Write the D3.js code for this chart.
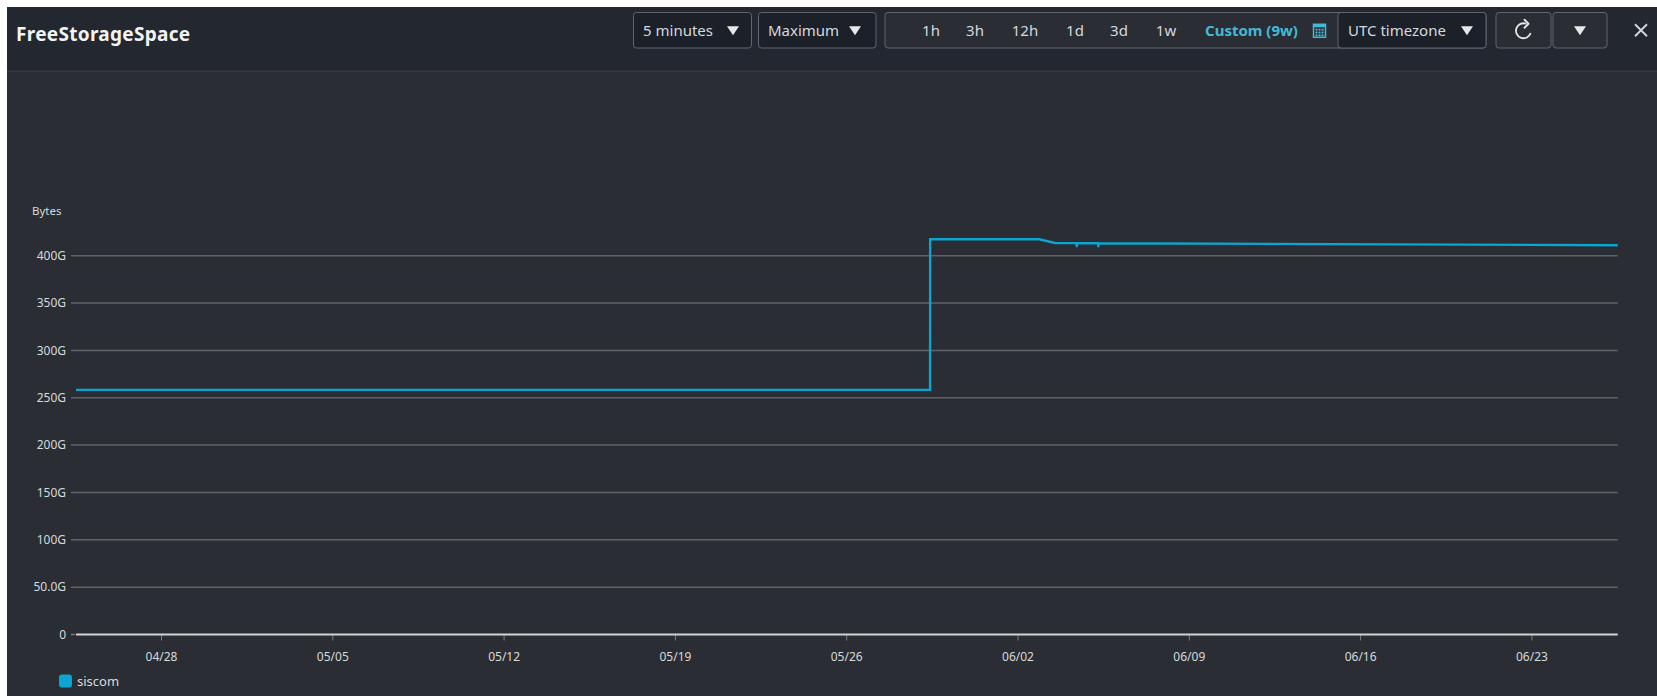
<!DOCTYPE html>
<html>
<head>
<meta charset="utf-8">
<script src="https://cdn.jsdelivr.net/npm/d3@7/dist/d3.min.js"></script>
<style>
  html, body { margin: 0; padding: 0; background: #ffffff; }
  svg { display: block; font-family: "Noto Sans", "Open Sans", sans-serif; }
</style>
</head>
<body>
<svg id="chart" width="1657" height="696"></svg>
<script>
// ---- data ----
const seriesName = "siscom";
const times = [
  "2024-04-24T12:38:00Z",
  "2024-05-29T10:15:00Z",
  "2024-05-29T10:20:00Z",
  "2024-06-02T21:20:00Z",
  "2024-06-03T12:45:00Z",
  "2024-06-04T09:50:00Z",
  "2024-06-04T10:05:00Z",
  "2024-06-04T10:20:00Z",
  "2024-06-05T07:00:00Z",
  "2024-06-05T07:15:00Z",
  "2024-06-05T07:30:00Z",
  "2024-06-26T12:38:00Z"
];
const valuesGB = [258.3, 258.3, 417.3, 417.3, 413.4, 413.3, 409.0, 413.3, 413.2, 409.0, 413.2, 411.0];
const yTicks = [0, 50, 100, 150, 200, 250, 300, 350, 400];
const yTickLabels = ["0", "50.0G", "100G", "150G", "200G", "250G", "300G", "350G", "400G"];
const xDomain = ["2024-04-24T12:38:00Z", "2024-06-26T12:38:00Z"];
const periodOptions = ["5 minutes", "Maximum"];
const rangeOptions = ["1h", "3h", "12h", "1d", "3d", "1w"];
const customLabel = "Custom (9w)";
const tzLabel = "UTC timezone";
const title = "FreeStorageSpace";
const yAxisLabel = "Bytes";

// ---- layout ----
const svg = d3.select("#chart");
const W = 1657, H = 696;
const left = 76, right = 1617.7, top0 = 255.7, bottom = 634.5;

// backgrounds
svg.append("rect").attr("x", 0).attr("y", 0).attr("width", W).attr("height", H).attr("fill", "#ffffff");
svg.append("rect").attr("x", 7).attr("y", 7).attr("width", W - 7).attr("height", H - 7).attr("fill", "#2a2d33");
svg.append("rect").attr("x", 7).attr("y", 7).attr("width", W - 7).attr("height", 64).attr("fill", "#232730");
svg.append("rect").attr("x", 7).attr("y", 70.5).attr("width", W - 7).attr("height", 1.5).attr("fill", "#343941");

// ---- header ----
svg.append("text").attr("x", 16).attr("y", 40.5).attr("fill", "#f2f3f3")
  .attr("font-size", 19).attr("font-weight", 700).attr("letter-spacing", 0.3).text(title);

function triangle(g, cx, cy) {
  g.append("path").attr("d", `M${cx-6},${cy-4} L${cx+6},${cy-4} L${cx},${cy+5} Z`).attr("fill", "#e6e8ea");
}
const btnY = 12.5, btnH = 35.5, midY = btnY + btnH / 2;
const btnText = "#d5d9de", btnBorder = "#5f6670";

// period / stat buttons
const btns = [
  {x: 633.5, w: 118, label: periodOptions[0], tx: 643, ax: 733},
  {x: 758.5, w: 117.5, label: periodOptions[1], tx: 768, ax: 855}
];
btns.forEach(b => {
  svg.append("rect").attr("x", b.x).attr("y", btnY).attr("width", b.w).attr("height", btnH)
    .attr("rx", 3).attr("fill", "#1b2029").attr("stroke", btnBorder).attr("stroke-width", 1);
  svg.append("text").attr("x", b.tx).attr("y", midY + 5.5).attr("fill", btnText).attr("font-size", 15).text(b.label);
  triangle(svg, b.ax, midY);
});

// range group
svg.append("rect").attr("x", 885).attr("y", btnY).attr("width", 601).attr("height", btnH)
  .attr("rx", 3).attr("fill", "#2a2d33").attr("stroke", btnBorder).attr("stroke-width", 1);
const rangeX = [931, 975, 1025, 1075, 1119, 1166];
rangeOptions.forEach((r, i) => {
  svg.append("text").attr("x", rangeX[i]).attr("y", midY + 5.5).attr("text-anchor", "middle")
    .attr("fill", btnText).attr("font-size", 15).text(r);
});
svg.append("text").attr("x", 1205).attr("y", midY + 5.5).attr("fill", "#44b9d6")
  .attr("font-size", 15).attr("font-weight", 700).text(customLabel);
// calendar icon
const cal = svg.append("g").attr("transform", `translate(1313,${midY - 6.5})`);
cal.append("rect").attr("x", 0.5).attr("y", 0.5).attr("width", 12).attr("height", 13).attr("fill", "none")
  .attr("stroke", "#44b9d6").attr("stroke-width", 1.5);
cal.append("rect").attr("x", 0.5).attr("y", 0.5).attr("width", 12).attr("height", 3).attr("fill", "#44b9d6");
for (let r = 0; r < 3; r++) for (let c = 0; c < 3; c++) {
  cal.append("rect").attr("x", 2.5 + c * 3).attr("y", 5 + r * 2.8).attr("width", 2).attr("height", 1.8).attr("fill", "#44b9d6");
}
// timezone
svg.append("rect").attr("x", 1338).attr("y", btnY).attr("width", 148).attr("height", btnH)
  .attr("rx", 3).attr("fill", "#1b2029").attr("stroke", btnBorder).attr("stroke-width", 1);
svg.append("text").attr("x", 1348).attr("y", midY + 5.5).attr("fill", btnText).attr("font-size", 15).text(tzLabel);
triangle(svg, 1467, midY);
// refresh
svg.append("rect").attr("x", 1496).attr("y", btnY).attr("width", 55).attr("height", btnH)
  .attr("rx", 3).attr("fill", "#2a2d33").attr("stroke", btnBorder).attr("stroke-width", 1);
const rc = {x: 1523.5, y: midY + 0.5}, rr = 7.5;
const rp = d3.path();
rp.arc(0, 0, rr, Math.PI * 0.1, Math.PI * 1.62, false);
svg.append("path").attr("transform", `translate(${rc.x},${rc.y})`).attr("d", rp.toString())
  .attr("fill", "none").attr("stroke", "#e6e8ea").attr("stroke-width", 1.8);
svg.append("path").attr("d", `M${rc.x + 1},${rc.y - 11} L${rc.x + 5},${rc.y - 7} L${rc.x + 1},${rc.y - 3}`)
  .attr("fill", "none").attr("stroke", "#e6e8ea").attr("stroke-width", 1.8).attr("stroke-linejoin", "round").attr("stroke-linecap", "round");
// dropdown
svg.append("rect").attr("x", 1553).attr("y", btnY).attr("width", 54).attr("height", btnH)
  .attr("rx", 3).attr("fill", "#2a2d33").attr("stroke", btnBorder).attr("stroke-width", 1);
triangle(svg, 1580, midY);
// close X
svg.append("path").attr("d", `M1635,${midY - 6} L1647,${midY + 6} M1647,${midY - 6} L1635,${midY + 6}`)
  .attr("stroke", "#d5d9de").attr("stroke-width", 1.8).attr("fill", "none");

// ---- chart ----
const x = d3.scaleUtc().domain(xDomain.map(d => new Date(d))).range([left, right]);
const y = d3.scaleLinear().domain([0, 400]).range([bottom, top0]);

// y grid + labels
const gy = svg.append("g");
yTicks.forEach((t, i) => {
  if (t !== 0) {
    gy.append("line").attr("x1", 71).attr("x2", right).attr("y1", y(t)).attr("y2", y(t))
      .attr("stroke", "#606368").attr("stroke-width", 1.5);
  } else {
    gy.append("line").attr("x1", 71).attr("x2", 75).attr("y1", y(t)).attr("y2", y(t))
      .attr("stroke", "#7a7d82").attr("stroke-width", 1.5);
  }
  gy.append("text").attr("x", 66).attr("y", y(t) + 4.3).attr("text-anchor", "end")
    .attr("fill", "#d5dbdb").attr("font-size", 12).text(yTickLabels[i]);
});
svg.append("text").attr("x", 32).attr("y", 215).attr("fill", "#d5dbdb").attr("font-size", 11.5).text(yAxisLabel);

// x axis
const xAxis = d3.axisBottom(x).ticks(d3.utcWeek.every(1)).tickFormat(d3.utcFormat("%m/%d")).tickSize(6).tickSizeOuter(0);
const gx = svg.append("g").attr("transform", `translate(0,${bottom})`).call(xAxis);
gx.select(".domain").remove();
gx.selectAll(".tick line").attr("stroke", "#7a7d82").attr("stroke-width", 1);
gx.selectAll(".tick text").attr("fill", "#d5dbdb").attr("font-size", 12).attr("dy", null).attr("y", 26)
  .attr("font-family", "Noto Sans, Open Sans, sans-serif");
svg.append("line").attr("x1", left).attr("x2", right).attr("y1", bottom).attr("y2", bottom)
  .attr("stroke", "#d2d4d6").attr("stroke-width", 2);

// series line
const data = times.map((t, i) => ({t: new Date(t), v: valuesGB[i]}));
const line = d3.line().x(d => x(d.t)).y(d => y(d.v));
svg.append("path").datum(data).attr("d", line).attr("fill", "none")
  .attr("stroke", "#0ba5d1").attr("stroke-width", 2.4).attr("stroke-linejoin", "miter");

// legend
svg.append("rect").attr("x", 59).attr("y", 674.5).attr("width", 13).attr("height", 13).attr("rx", 3).attr("fill", "#0ba5d1");
svg.append("text").attr("x", 77).attr("y", 686).attr("fill", "#d5dbdb").attr("font-size", 13).text(seriesName);
</script>
</body>
</html>
